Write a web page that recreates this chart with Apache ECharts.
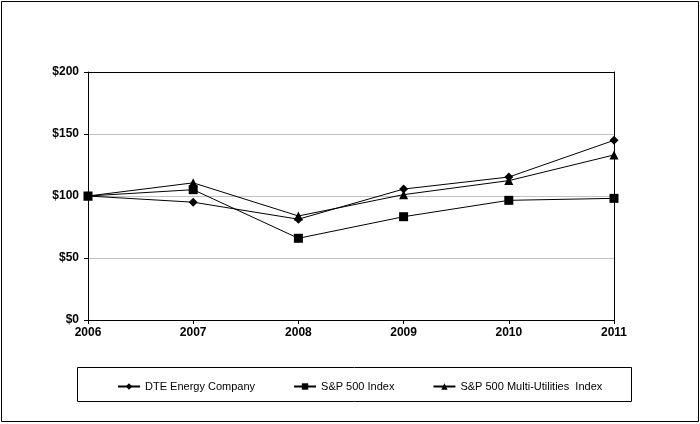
<!DOCTYPE html>
<html><head><meta charset="utf-8">
<script src="https://cdn.jsdelivr.net/npm/echarts@6/dist/echarts.min.js"></script>
<style>html,body{margin:0;padding:0;background:#fff}#c{width:700px;height:424px}</style>
</head><body><div id="c"></div>
<script>
const years = ['2006','2007','2008','2009','2010','2011'];
const dte = [100, 95.0, 81.3, 105.6, 115.3, 144.9];
const sp500 = [100, 105.1, 65.9, 83.3, 96.5, 98.1];
const multiUtil = [100, 110.6, 83.9, 101.1, 112.4, 133.1];
const seriesNames = ['DTE Energy Company', 'S&P 500 Index', 'S&P 500 Multi-Utilities  Index'];

const chart = echarts.init(document.getElementById('c'));
const mk = (name, data, symbol, size) => ({
  name, type: 'line', data, symbol, symbolSize: size,
  lineStyle: {color: '#000', width: 1},
  itemStyle: {color: '#000'},
  animation: false
});
const lbl = {color: '#000', fontWeight: 'bold', fontSize: 12, fontFamily: 'Liberation Sans, Arial'};
chart.setOption({
  animation: false,
  grid: {left: 88, right: 86, top: 72, bottom: 104, show: false, containLabel: false},
  xAxis: [{
    type: 'category', data: years, boundaryGap: false,
    axisLine: {onZero: false, lineStyle: {color: '#000'}},
    axisTick: {show: true, length: 4, lineStyle: {color: '#000'}},
    axisLabel: Object.assign({margin: 7}, lbl),
    splitLine: {show: false}
  }, {
    type: 'category', data: years, boundaryGap: false, position: 'top',
    axisLine: {show: true, onZero: false, lineStyle: {color: '#000'}},
    axisTick: {show: false}, axisLabel: {show: false}, splitLine: {show: false}
  }],
  yAxis: [{
    type: 'value', min: 0, max: 200, interval: 50,
    axisLine: {show: true, onZero: false, lineStyle: {color: '#000'}},
    axisTick: {show: true, length: 4, lineStyle: {color: '#000'}},
    axisLabel: Object.assign({margin: 9, formatter: v => '$' + v}, lbl),
    splitLine: {show: true, showMinLine: false, showMaxLine: false, lineStyle: {color: '#c0c0c0', width: 1}}
  }, {
    type: 'value', min: 0, max: 200, interval: 50, position: 'right',
    axisLine: {show: true, onZero: false, lineStyle: {color: '#000'}},
    axisTick: {show: false}, axisLabel: {show: false}, splitLine: {show: false}
  }],
  legend: {
    data: seriesNames, left: 112, top: 376, itemGap: 38, itemWidth: 22, itemHeight: 8,
    textStyle: {color: '#000', fontSize: 11, fontFamily: 'Liberation Sans, Arial'}
  },
  graphic: [
    {type: 'rect', shape: {x: 1.5, y: 1.5, width: 697, height: 420}, style: {fill: 'none', stroke: '#000', lineWidth: 1}, silent: true},
    {type: 'rect', shape: {x: 77.5, y: 367.5, width: 554, height: 34}, style: {fill: 'none', stroke: '#000', lineWidth: 1}, silent: true}
  ],
  series: [
    mk(seriesNames[0], dte, 'diamond', 9),
    mk(seriesNames[1], sp500, 'rect', 9),
    mk(seriesNames[2], multiUtil, 'triangle', 9)
  ]
});
</script></body></html>
